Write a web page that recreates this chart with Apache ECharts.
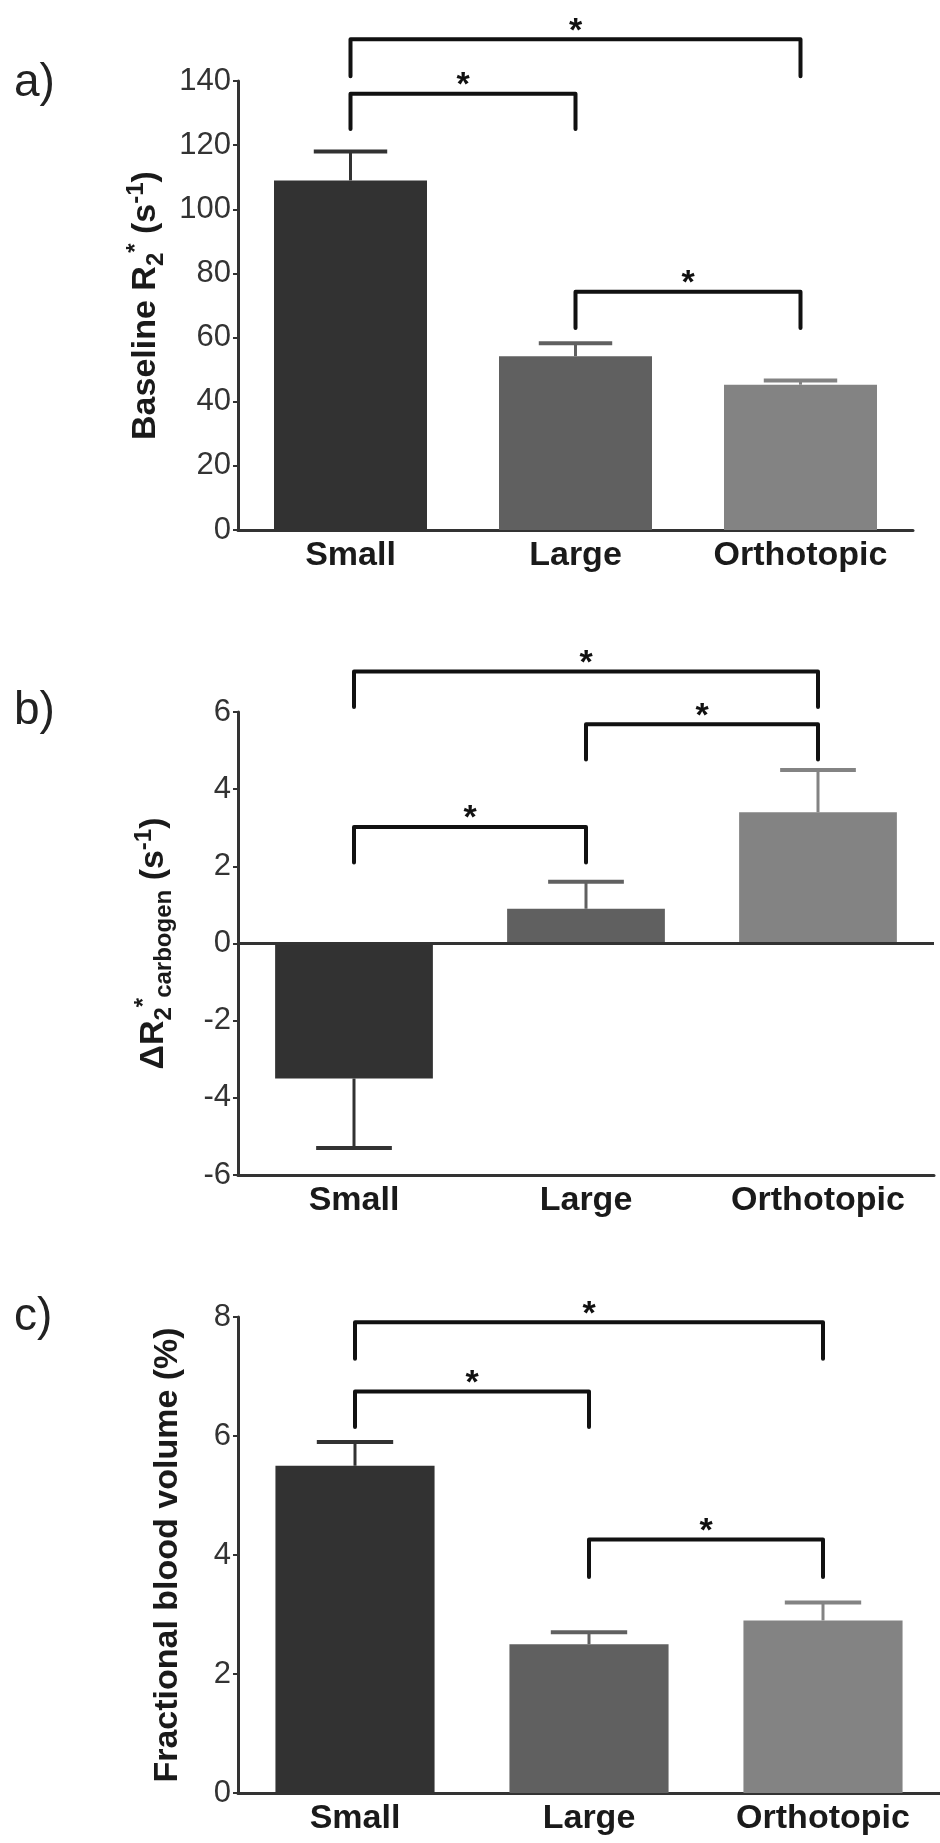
<!DOCTYPE html>
<html>
<head>
<meta charset="utf-8">
<script src="https://cdn.jsdelivr.net/npm/echarts@6/dist/echarts.min.js"></script>
<style>
html,body{margin:0;padding:0;background:#fff;}
#chart{width:940px;height:1843px;}
</style>
</head>
<body>
<div id="chart"></div>
<script>
// ---------- data ----------
const categories = ['Small', 'Large', 'Orthotopic'];
const barColors = ['#323232', '#606060', '#838383'];

// a) Baseline R2* (s^-1)
const baselineMean = [109, 54.2, 45.3];
const baselineSem  = [9, 4, 1.3];
// brackets: [fromIdx, toIdx, barValue, legEndValue]
const baselineBrackets = [[0, 2, 153, 141.5], [0, 1, 136, 125], [1, 2, 74.3, 63]];
const baselineTicks = {min: 0, max: 140, interval: 20};

// b) Delta R2* carbogen (s^-1)
const deltaMean = [-3.5, 0.9, 3.4];
const deltaSem  = [1.8, 0.7, 1.1];
const deltaBrackets = [[0, 2, 7.05, 6.13], [1, 2, 5.68, 4.77], [0, 1, 3.02, 2.1]];
const deltaTicks = {min: -6, max: 6, interval: 2};

// c) Fractional blood volume (%)
const fbvMean = [5.5, 2.5, 2.9];
const fbvSem  = [0.4, 0.2, 0.3];
const fbvBrackets = [[0, 2, 7.91, 7.3], [0, 1, 6.75, 6.15], [1, 2, 4.26, 3.63]];
const fbvTicks = {min: 0, max: 8, interval: 2};

// ---------- chart ----------
const FONT = "'Liberation Sans', Arial, Helvetica, sans-serif";
const chart = echarts.init(document.getElementById('chart'), null, {renderer: 'canvas'});

function xAxisCfg(gridIndex, onZero) {
  return {
    type: 'category', gridIndex: gridIndex, data: categories,
    axisLine: {onZero: onZero, lineStyle: {color: '#333', width: 3}},
    axisTick: {alignWithLabel: true, length: 6, lineStyle: {color: '#333', width: 2}},
    axisLabel: {fontSize: 34, fontWeight: 'bold', color: '#1a1a1a', margin: 9, fontFamily: FONT, interval: 0},
    splitLine: {show: false}
  };
}
const richName = {
  m: {fontSize: 34, fontWeight: 'bold', fontFamily: FONT, color: '#1a1a1a', lineHeight: 44, verticalAlign: 'middle'},
  sub: {fontSize: 24, fontWeight: 'bold', fontFamily: FONT, color: '#1a1a1a', lineHeight: 24, verticalAlign: 'bottom'},
  sup: {fontSize: 24, fontWeight: 'bold', fontFamily: FONT, color: '#1a1a1a', lineHeight: 24, verticalAlign: 'top'}
};
function yAxisCfg(gridIndex, ticks, name, gap) {
  return {
    type: 'value', gridIndex: gridIndex, min: ticks.min, max: ticks.max, interval: ticks.interval,
    name: name, nameLocation: 'middle', nameGap: gap, nameRotate: 90,
    nameTextStyle: {fontSize: 34, fontWeight: 'bold', fontFamily: FONT, color: '#1a1a1a', rich: richName},
    axisLine: {show: true, onZero: false, lineStyle: {color: '#333', width: 3}},
    axisTick: {show: true, length: 5, lineStyle: {color: '#333', width: 2}},
    axisLabel: {fontSize: 31, color: '#333', margin: 7, fontFamily: FONT},
    splitLine: {show: false}
  };
}
function barSeries(idx, means, extra) {
  return Object.assign({
    type: 'bar', xAxisIndex: idx, yAxisIndex: idx, barWidth: '68%',
    data: means.map((v, i) => ({value: v, itemStyle: {color: barColors[i]}})),
    z: 2
  }, extra || {});
}
function errSeries(idx, means, sems) {
  return {
    type: 'custom', xAxisIndex: idx, yAxisIndex: idx, z: 1,
    data: means.map((m, i) => [i, m, sems[i]]),
    encode: {x: 0, y: 1},
    renderItem: function (params, api) {
      const i = api.value(0), m = api.value(1), e = api.value(2);
      const base = api.coord([i, m]);
      const tip = api.coord([i, m < 0 ? m - e : m + e]);
      const cw = api.size([1, 0])[0] * 0.68 * 0.48;
      const color = barColors[i];
      return {type: 'group', children: [
        {type: 'line', shape: {x1: base[0], y1: base[1], x2: tip[0], y2: tip[1]}, style: {stroke: color, lineWidth: 3}},
        {type: 'line', shape: {x1: tip[0] - cw / 2, y1: tip[1], x2: tip[0] + cw / 2, y2: tip[1]}, style: {stroke: color, lineWidth: 4}}
      ]};
    }
  };
}
function bracketSeries(idx, brackets) {
  return {
    type: 'custom', xAxisIndex: idx, yAxisIndex: idx, z: 3, clip: false,
    data: brackets,
    encode: {x: [0, 1], y: [2, 3]},
    renderItem: function (params, api) {
      const p1 = api.coord([api.value(0), api.value(2)]);
      const p2 = api.coord([api.value(1), api.value(2)]);
      const yEnd = api.coord([api.value(0), api.value(3)])[1];
      return {type: 'group', children: [
        {type: 'polyline', shape: {points: [[p1[0], yEnd], [p1[0], p1[1]], [p2[0], p2[1]], [p2[0], yEnd]]},
          style: {stroke: '#111', lineWidth: 4, fill: null, lineJoin: 'round', lineCap: 'round'}},
        {type: 'text', x: (p1[0] + p2[0]) / 2, y: p1[1] - 8,
          style: {text: '*', font: 'bold 34px ' + FONT, fill: '#111', align: 'center', verticalAlign: 'middle'}}
      ]};
    }
  };
}

const option = {
  backgroundColor: '#ffffff',
  animation: false,
  grid: [
    {left: 238, top: 81, width: 675, height: 449},
    {left: 238, top: 712, width: 696, height: 463},
    {left: 238, top: 1317, width: 710, height: 476}
  ],
  xAxis: [xAxisCfg(0, true), xAxisCfg(1, false), xAxisCfg(2, true)],
  yAxis: [
    yAxisCfg(0, baselineTicks, '{m|Baseline R}{sub|2}{sup|*}{m| (s}{sup|-1}{m|)}', 70),
    yAxisCfg(1, deltaTicks, '{m|ΔR}{sub|2}{sup|*}{sub|carbogen}{m| (s}{sup|-1}{m|)}', 62),
    yAxisCfg(2, fbvTicks, '{m|Fractional blood volume (%)}', 48)
  ],
  graphic: [
    {type: 'text', left: 14, top: 60, style: {text: 'a)', font: '46px ' + FONT, fill: '#222'}},
    {type: 'text', left: 14, top: 688, style: {text: 'b)', font: '46px ' + FONT, fill: '#222'}},
    {type: 'text', left: 14, top: 1294, style: {text: 'c)', font: '46px ' + FONT, fill: '#222'}}
  ],
  series: [
    barSeries(0, baselineMean),
    errSeries(0, baselineMean, baselineSem),
    bracketSeries(0, baselineBrackets),
    barSeries(1, deltaMean, {markLine: {silent: true, symbol: 'none', label: {show: false},
      lineStyle: {color: '#333', width: 3, type: 'solid'}, data: [{yAxis: 0}]}}),
    errSeries(1, deltaMean, deltaSem),
    bracketSeries(1, deltaBrackets),
    barSeries(2, fbvMean),
    errSeries(2, fbvMean, fbvSem),
    bracketSeries(2, fbvBrackets)
  ]
};
chart.setOption(option);
</script>
</body>
</html>
